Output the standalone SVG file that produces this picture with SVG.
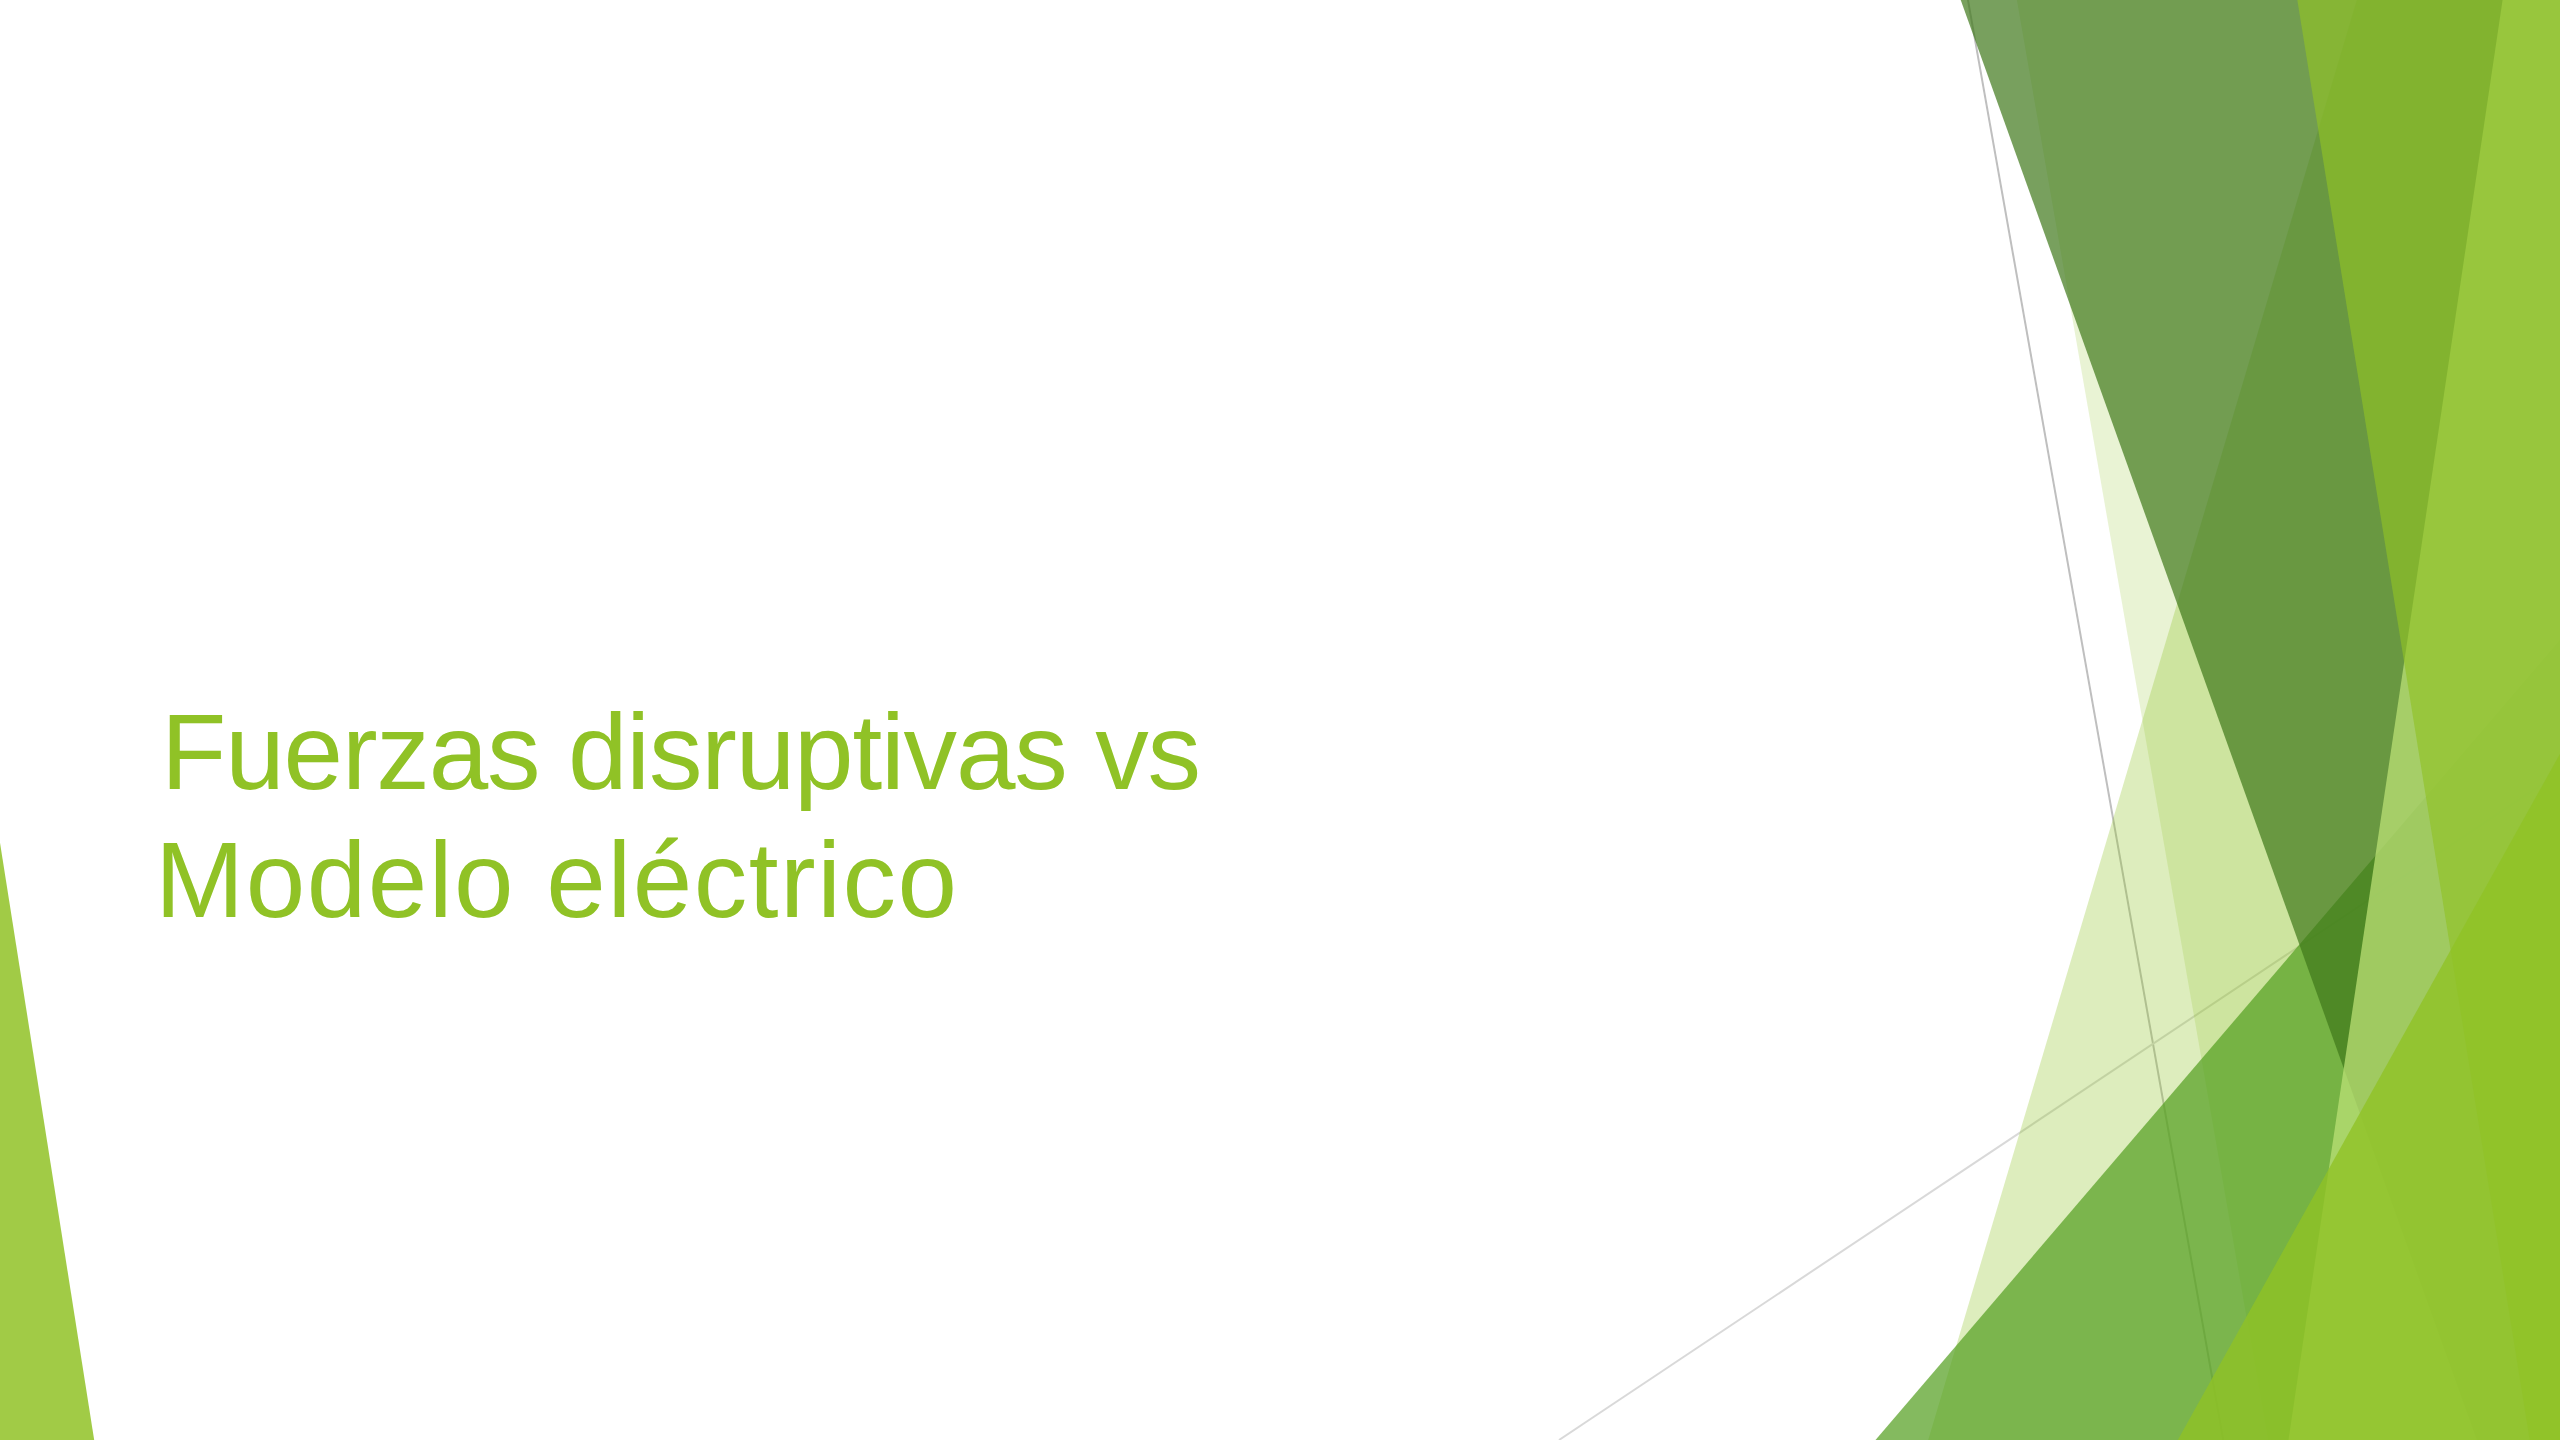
<svg xmlns="http://www.w3.org/2000/svg" width="2560" height="1440" viewBox="0 0 2560 1440">
  <style>
    .a1 { fill: #90C226; }
    .title { font-family: "Liberation Sans", "Open Sans", sans-serif; font-size: 107px; fill: #90C226; }
    .ln1 { stroke: #BFBFBF; stroke-width: 2; fill: none; }
    .ln2 { stroke: #D9D9D9; stroke-width: 2; fill: none; }
  </style>
  <rect x="0" y="0" width="2560" height="1440" fill="#FFFFFF"/>
  <g id="connectors">
    <line class="ln1" x1="1967.6" y1="-2" x2="2223.6" y2="1442"/>
    <line class="ln2" x1="1559" y1="1440" x2="2559" y2="773"/>
  </g>
  <g id="facet-b"><polygon class="a1" fill-opacity="0.3" points="2357.4,-2 2562,-2 2562,1442 1927.6,1442"/></g>
  <g id="facet-c"><polygon class="a1" fill-opacity="0.2" points="2016.5,-2 2562,-2 2562,1442 2268.3,1442"/></g>
  <g id="facet-d"><polygon fill="#54A021" fill-opacity="0.72" points="2560,640 2562,640 2562,1442 1873.8,1442"/></g>
  <g id="facet-a"><polygon fill="#3F7819" fill-opacity="0.7" points="1960,-2 2562,-2 2562,1442 2477.7,1442"/></g>
  <g id="facet-e"><polygon fill="#BBE075" fill-opacity="0.75" points="2502.9,-2 2562,-2 2562,1442 2288.2,1442"/></g>
  <g id="facet-f"><polygon class="a1" fill-opacity="0.65" points="2297,-2 2562,-2 2562,1442 2530,1442"/></g>
  <g id="facet-g"><polygon class="a1" fill-opacity="0.8" points="2560,753.8 2562,753.8 2562,1442 2176.7,1442"/></g>
  <g id="facet-left"><polygon class="a1" fill-opacity="0.85" points="0,842.7 94.5,1442 -2,1442 -2,842.7"/></g>
  <g id="title">
    <text class="title"><tspan x="161" y="789" textLength="1040" lengthAdjust="spacing">Fuerzas disruptivas vs</tspan><tspan x="155" y="917" textLength="802" lengthAdjust="spacing">Modelo eléctrico</tspan></text>
  </g>
</svg>
